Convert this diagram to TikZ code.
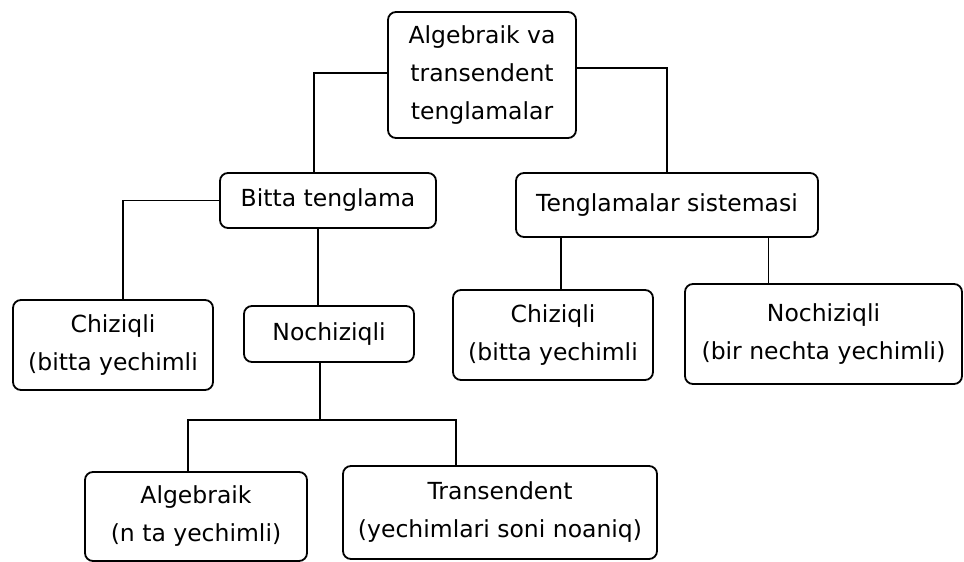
\documentclass[tikz,border=0pt]{standalone}
\usepackage{fontspec}
\setmainfont{DejaVu Sans}
\usetikzlibrary{calc,positioning}

\begin{document}
\begin{tikzpicture}[
  x=1pt, y=-1pt,
  line width=1.8pt,
  box/.style={draw=black, rounded corners=8pt, align=center, inner sep=0pt,
    font=\fontsize{23.5}{38}\selectfont},
  link/.style={draw=black, line width=1.8pt}
]

  \useasboundingbox (0,0) rectangle (964,562);

  % Root
  \node[box, minimum width=188, minimum height=126] (root) at (482,75)
    {Algebraik va\\transendent\\tenglamalar};

  % Second level
  \node[box, minimum width=216, minimum height=55] (bitta) at (328,200.5) {Bitta tenglama};
  \node[box, minimum width=302, minimum height=64] (sistema) at (667,205) {Tenglamalar sistemasi};

  % Third level
  \node[box, minimum width=200, minimum height=90] (chizA) at (113,345) {Chiziqli\\(bitta yechimli};
  \node[box, minimum width=170, minimum height=56] (nochA) at (329,334) {Nochiziqli};
  \node[box, minimum width=200, minimum height=90] (chizB) at (553,335) {Chiziqli\\(bitta yechimli};
  \node[box, minimum width=277, minimum height=100] (nochB) at (823.5,334) {Nochiziqli\\(bir nechta yechimli)};

  % Fourth level
  \node[box, minimum width=222, minimum height=89] (alg) at (196,516.5) {Algebraik\\(n ta yechimli)};
  \node[box, minimum width=314, minimum height=93] (trans) at (500,512.5) {Transendent\\(yechimlari soni noaniq)};

  \coordinate (fork) at (320,420);

  % Connectors
  \draw[link] ([yshift=2pt]root.west) -| ([xshift=-14pt]bitta.north);
  \draw[link] ([yshift=7pt]root.east) -| (sistema.north);
  \draw[link] (bitta.west) -| ([xshift=10pt]chizA.north);
  \draw[link] ([xshift=-10pt]bitta.south) -- ([xshift=-10pt]bitta.south |- nochA.north);
  \draw[link] (nochA.south -| fork) -- (fork);
  \draw[link] (fork) -| ([xshift=-8pt]alg.north);
  \draw[link] (fork) -| ([xshift=-44pt]trans.north);
  \draw[link] ([xshift=8pt]chizB.north |- sistema.south) -- ([xshift=8pt]chizB.north);
  \draw[link] ([xshift=-55pt]nochB.north |- sistema.south) -- ([xshift=-55pt]nochB.north);

\end{tikzpicture}
\end{document}
